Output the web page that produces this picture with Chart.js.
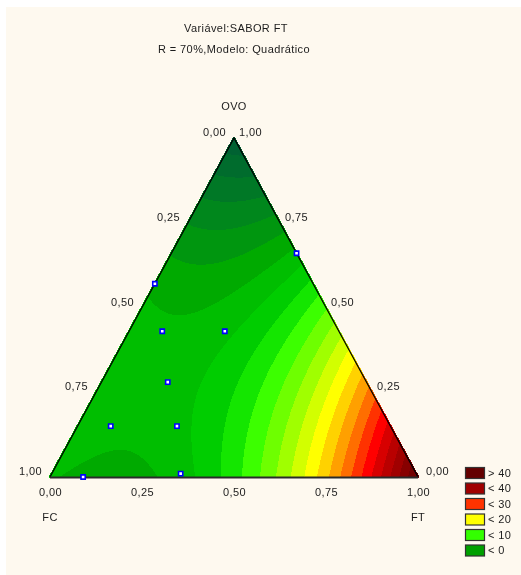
<!DOCTYPE html>
<html>
<head>
<meta charset="utf-8">
<script src="https://cdn.jsdelivr.net/npm/chart.js@4.4.1/dist/chart.umd.min.js"></script>
<style>
  html, body { margin: 0; padding: 0; background: #ffffff; }
  #wrap { width: 521px; height: 575px; position: relative; }
  canvas { display: block; }
</style>
</head>
<body>
<div id="wrap"><canvas id="c" width="521" height="575"></canvas></div>
<script>
// ---- Data ----
const titleLines = ['Variável:SABOR FT', 'R = 70%,Modelo: Quadrático'];
const categories = ['FC', 'FT', 'OVO'];
// design points (fractions of each component)
const fcValues  = [0.00, 0.43, 0.48, 0.31, 0.54, 0.76, 0.58, 0.91, 0.64];
const ftValues  = [0.34, 0.00, 0.09, 0.26, 0.18, 0.09, 0.27, 0.09, 0.35];
const ovoValues = [0.66, 0.57, 0.43, 0.43, 0.28, 0.15, 0.15, 0.00, 0.01];
// fitted quadratic model (estimated from the contour colours)
const modelLinear = [3, 48, -12];      // FC, FT, OVO
const modelCross  = [-66, 30, -23];    // FC*FT, FC*OVO, FT*OVO
const tickValues = [0, 0.25, 0.5, 0.75, 1];
const tickLabels = ['0,00', '0,25', '0,50', '0,75', '1,00'];
const legendLabels = ['> 40', '< 40', '< 30', '< 20', '< 10', '< 0'];

// ---- Styles ----
const legendColors = ['#640000', '#A00000', '#FF3300', '#FFFF00', '#33FF00', '#00A000'];
const contourStep = 2.5;
const colorStops = [
  [-12.5, [0, 98, 50]],
  [-10,   [0, 108, 45]],
  [-7.5,  [0, 120, 38]],
  [-5,    [0, 135, 28]],
  [-2.5,  [0, 150, 15]],
  [0,     [0, 170, 0]],
  [2.5,   [0, 190, 0]],
  [5,     [0, 205, 0]],
  [7.5,   [20, 230, 0]],
  [10,    [60, 255, 0]],
  [12.5,  [110, 255, 0]],
  [15,    [160, 255, 0]],
  [17.5,  [210, 255, 0]],
  [20,    [255, 255, 0]],
  [22.5,  [255, 210, 0]],
  [25,    [255, 160, 0]],
  [27.5,  [255, 110, 0]],
  [30,    [255, 50, 0]],
  [32.5,  [255, 0, 0]],
  [35,    [215, 0, 0]],
  [37.5,  [185, 0, 0]],
  [40,    [160, 0, 0]],
  [42.5,  [135, 0, 0]],
  [45,    [115, 0, 0]],
  [47.5,  [100, 0, 0]]
];
const FONT = '11px "Liberation Sans", Arial, sans-serif';
const TEXT = '#1c1c1c';

function modelValue(fc, ft, ovo) {
  return modelLinear[0] * fc + modelLinear[1] * ft + modelLinear[2] * ovo +
         modelCross[0] * fc * ft + modelCross[1] * fc * ovo + modelCross[2] * ft * ovo;
}
function colorFor(v) {
  const c = Math.floor(v / contourStep) * contourStep;
  if (c <= colorStops[0][0]) return colorStops[0][1];
  if (c >= colorStops[colorStops.length - 1][0]) return colorStops[colorStops.length - 1][1];
  for (let i = 0; i < colorStops.length - 1; i++) {
    const [a, ca] = colorStops[i], [b, cb] = colorStops[i + 1];
    if (c >= a && c <= b) {
      const t = (c - a) / (b - a);
      return [0, 1, 2].map(k => Math.round(ca[k] + (cb[k] - ca[k]) * t));
    }
  }
  return [0, 0, 0];
}
// ternary -> cartesian
const toXY = (fc, ft, ovo) => ({ x: ft + ovo / 2, y: ovo });

const points = fcValues.map((fc, i) => toXY(fc, ftValues[i], ovoValues[i]));

const ternaryPlugin = {
  id: 'ternary',
  beforeDraw(chart) {
    const ctx = chart.ctx;
    ctx.save();
    ctx.fillStyle = '#ffffff';
    ctx.fillRect(0, 0, chart.width, chart.height);
    ctx.fillStyle = '#FEF9EF';
    ctx.fillRect(6, 7, chart.width - 6, chart.height - 7);
    ctx.restore();
  },
  beforeDatasetsDraw(chart) {
    const ctx = chart.ctx;
    const xs = chart.scales.x, ys = chart.scales.y;
    const area = chart.chartArea;
    const off = document.createElement('canvas');
    off.width = chart.width; off.height = chart.height;
    const octx = off.getContext('2d');
    const x0 = Math.floor(area.left) - 1, x1 = Math.ceil(area.right) + 1;
    const y0 = Math.floor(area.top) - 1, y1 = Math.ceil(area.bottom) + 1;
    const img = octx.createImageData(x1 - x0, y1 - y0);
    for (let py = y0; py < y1; py++) {
      const Y = ys.getValueForPixel(py + 0.5);
      for (let px = x0; px < x1; px++) {
        const X = xs.getValueForPixel(px + 0.5);
        const ovo = Y, ft = X - Y / 2, fc = 1 - ft - ovo;
        if (ovo < -0.004 || ft < -0.004 || fc < -0.004) continue;
        const col = colorFor(modelValue(fc, ft, ovo));
        const idx = ((py - y0) * (x1 - x0) + (px - x0)) * 4;
        img.data[idx] = col[0]; img.data[idx + 1] = col[1]; img.data[idx + 2] = col[2]; img.data[idx + 3] = 255;
      }
    }
    octx.putImageData(img, x0, y0);
    ctx.drawImage(off, 0, 0);

    // triangle outline
    const P = (fc, ft, ovo) => {
      const p = toXY(fc, ft, ovo);
      return [xs.getPixelForValue(p.x), ys.getPixelForValue(p.y)];
    };
    const A = P(0, 0, 1), B = P(1, 0, 0), C = P(0, 1, 0);
    ctx.save();
    ctx.strokeStyle = '#000000';
    ctx.lineWidth = 1.3;
    ctx.beginPath();
    ctx.moveTo(B[0], B[1]); ctx.lineTo(A[0], A[1]); ctx.lineTo(C[0], C[1]);
    ctx.stroke();
    ctx.strokeStyle = '#2a2a2a';
    ctx.lineWidth = 2;
    ctx.beginPath();
    ctx.moveTo(B[0], B[1] + 0.5); ctx.lineTo(C[0], C[1] + 0.5);
    ctx.stroke();
    ctx.restore();
  },
  afterDraw(chart) {
    const ctx = chart.ctx;
    const xs = chart.scales.x, ys = chart.scales.y;
    const P = (fc, ft, ovo) => {
      const p = toXY(fc, ft, ovo);
      return [xs.getPixelForValue(p.x), ys.getPixelForValue(p.y)];
    };
    ctx.save();
    ctx.font = FONT;
    ctx.fillStyle = TEXT;
    ctx.letterSpacing = '0.4px';
    ctx.textBaseline = 'middle';

    // title
    ctx.textAlign = 'center';
    ctx.fillText(titleLines[0], 236, 29);
    ctx.fillText(titleLines[1], 234, 50);

    // left edge: FC fraction (1 at bottom-left, 0 at apex)
    ctx.textAlign = 'right';
    tickValues.forEach((t, i) => {
      const p = P(t, 0, 1 - t);
      ctx.fillText(tickLabels[i], p[0] - 8, p[1] - 5);
    });
    // right edge: OVO fraction
    ctx.textAlign = 'left';
    tickValues.forEach((t, i) => {
      const p = P(0, 1 - t, t);
      const dx = t === 0 ? 8 : 5;
      ctx.fillText(tickLabels[i], p[0] + dx, p[1] - 5);
    });
    // bottom edge: FT fraction
    ctx.textAlign = 'center';
    tickValues.forEach((t, i) => {
      const p = P(1 - t, t, 0);
      ctx.fillText(tickLabels[i], p[0] + 0.5, p[1] + 16);
    });
    // vertex names
    const apex = P(0, 0, 1), bl = P(1, 0, 0), br = P(0, 1, 0);
    ctx.fillText(categories[2], apex[0], apex[1] - 31);
    ctx.fillText(categories[0], bl[0], bl[1] + 41);
    ctx.fillText(categories[1], br[0], br[1] + 41);

    // legend
    ctx.textAlign = 'left';
    legendLabels.forEach((lab, i) => {
      const top = 467 + i * 15.5;
      ctx.fillStyle = legendColors[i];
      ctx.fillRect(465.5, top + 0.5, 19, 11);
      ctx.strokeStyle = '#333333';
      ctx.lineWidth = 1.2;
      ctx.strokeRect(465.5, top + 0.5, 19, 11);
      ctx.fillStyle = TEXT;
      ctx.fillText(lab, 488, top + 6.5);
    });
    ctx.restore();
  }
};

new Chart(document.getElementById('c'), {
  type: 'scatter',
  data: {
    datasets: [{
      label: 'Pontos',
      data: points,
      pointStyle: 'rect',
      pointRadius: 3,
      pointHoverRadius: 3,
      borderColor: '#0000FF',
      backgroundColor: '#FFFFFF',
      borderWidth: 1.6,
      clip: false
    }]
  },
  options: {
    responsive: false,
    animation: false,
    devicePixelRatio: 1,
    layout: { padding: { left: 50, right: 103, top: 138, bottom: 98 } },
    plugins: { legend: { display: false }, title: { display: false }, tooltip: { enabled: false } },
    events: [],
    scales: {
      x: { type: 'linear', min: 0, max: 1, display: false },
      y: { type: 'linear', min: 0, max: 1, display: false }
    }
  },
  plugins: [ternaryPlugin]
});
</script>
</body>
</html>
